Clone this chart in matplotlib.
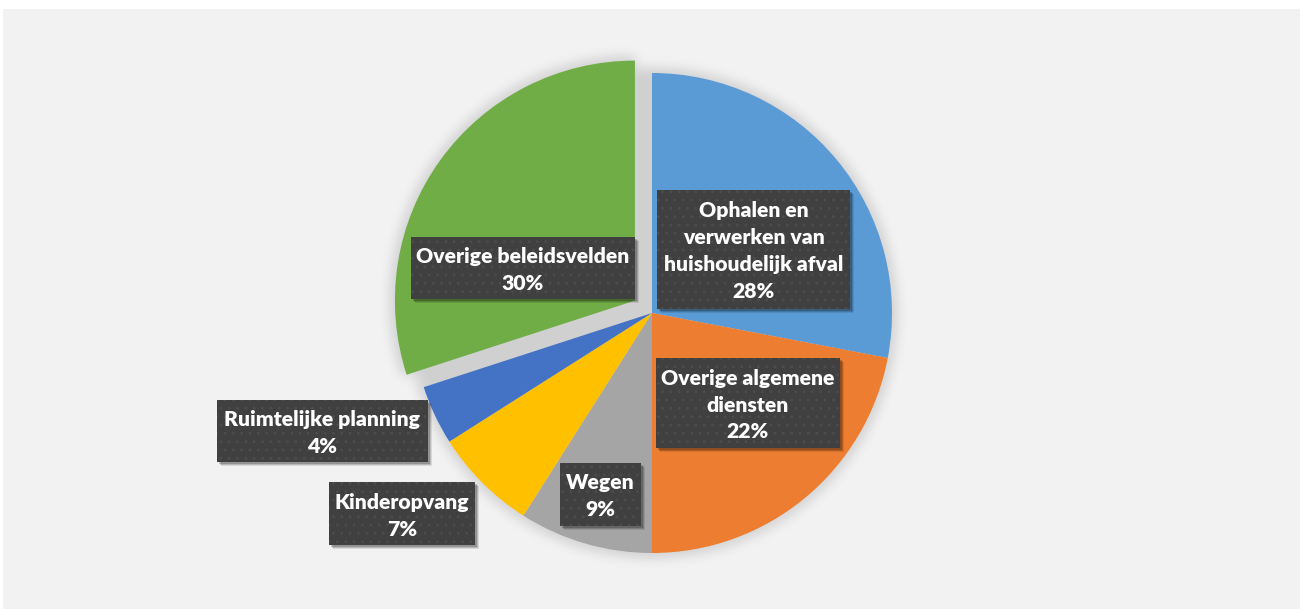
import numpy as np
import matplotlib
matplotlib.use('Agg')
import matplotlib.pyplot as plt
from matplotlib.patches import Rectangle

# ---- data ----
categories = ["Ophalen en verwerken van huishoudelijk afval",
              "Overige algemene diensten", "Wegen", "Kinderopvang",
              "Ruimtelijke planning", "Overige beleidsvelden"]
label_lines = ["Ophalen en\nverwerken van\nhuishoudelijk afval",
               "Overige algemene\ndiensten", "Wegen", "Kinderopvang",
               "Ruimtelijke planning", "Overige beleidsvelden"]
shares = [28, 22, 9, 7, 4, 30]

# ---- style / layout ----
colors = ["#5b9bd5", "#ed7d31", "#a5a5a5", "#ffc000", "#4472c4", "#70ad47"]
explode = [0, 0, 0, 0, 0, 0.088]
W, H = 1300, 609
CX, CY, R = 652, 313, 240          # pie centre / radius in pixels
# label boxes in pixels: x0, y0, x1, y1
boxes = [(657, 190, 850, 309), (656, 358, 840, 448), (560, 463, 641, 526),
         (329, 482, 475, 545), (217, 400, 428, 462), (411, 237, 635, 299)]


def px(x, y):
    """pixel (top-left origin) -> data units (pie radius = 1)"""
    return (x - CX) / R, (CY - y) / R


fig = plt.figure(figsize=(W / 100, H / 100), dpi=100, facecolor="white")
fig.add_artist(Rectangle((3 / W, 0), 1, (H - 9) / H, transform=fig.transFigure,
                         fc="#f2f2f2", ec="none", zorder=-5))
ax = fig.add_axes([0, 0, 1, 1])
ax.axis('off')
x0, y1 = px(0, 0)
x1, y0 = px(W, H)

# soft shadow under the pie (full disc + the pulled-out slice)
gx, gy = np.meshgrid(np.arange(W) + 0.5, np.arange(H) + 0.5)
dx, dy = (gx - CX) / R, (CY - gy) / R
mask = (dx ** 2 + dy ** 2) <= 1.02 ** 2
last_span = 360 * shares[-1] / 100
mid = np.radians(90 + last_span / 2)
ex, ey = explode[-1] * np.cos(mid), explode[-1] * np.sin(mid)
gdx, gdy = dx - ex, dy - ey
ang = np.degrees(np.arctan2(gdy, gdx)) % 360
mask |= ((gdx ** 2 + gdy ** 2) <= 1.02 ** 2) & (ang >= 90) & (ang <= 90 + last_span)


def blur(a, sigma):
    r = int(3 * sigma)
    k = np.exp(-np.arange(-r, r + 1) ** 2 / (2 * sigma ** 2))
    k /= k.sum()
    a = np.apply_along_axis(lambda m: np.convolve(m, k, mode='same'), 1, a)
    return np.apply_along_axis(lambda m: np.convolve(m, k, mode='same'), 0, a)


sh = blur(mask.astype(float), 6)
rgba = np.zeros((H, W, 4))
rgba[..., 3] = sh * 0.14
ax.imshow(rgba, extent=(x0, x1, y0, y1), origin='upper', zorder=1,
          interpolation='bilinear', aspect='auto')

wedges, _ = ax.pie(shares, colors=colors, startangle=90, counterclock=False,
                   explode=explode, radius=1, center=(0, 0),
                   wedgeprops=dict(linewidth=0))
for w in wedges:
    w.set_zorder(2)
ax.set_xlim(x0, x1)
ax.set_ylim(y0, y1)
ax.set_aspect('auto')

plt.rcParams['hatch.linewidth'] = 0.8
for (bx0, by0, bx1, by1), lab, val in zip(boxes, label_lines, shares):
    lx, ly = px(bx0, by1)
    bw, bh = (bx1 - bx0) / R, (by1 - by0) / R
    for off, al in [(4, 0.10), (3, 0.15), (2, 0.2)]:
        ax.add_patch(Rectangle((lx + off / R, ly - off / R), bw, bh,
                               fc="black", ec="none", alpha=al, zorder=3))
    ax.add_patch(Rectangle((lx, ly), bw, bh, fc="#404040", ec="#4c4c4c",
                           hatch="..", lw=0, zorder=4))
    tx, ty = px((bx0 + bx1) / 2, (by0 + by1) / 2 + 2)
    ax.text(tx, ty, f"{lab}\n{val}%", ha="center", va="center",
            multialignment="center", color="white", fontsize=15.2,
            fontweight="heavy", family="Lato", linespacing=1.5, zorder=5)

fig.savefig("out.png", dpi=100, facecolor="white")
